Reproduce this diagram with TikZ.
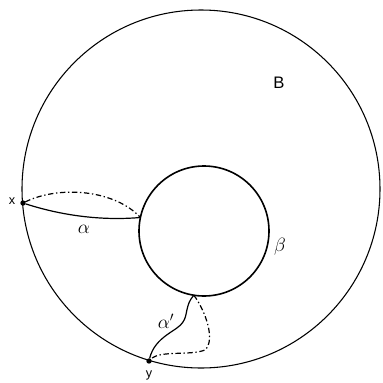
\documentclass[tikz,border=0pt]{standalone}
\usepackage{fontspec}
\setsansfont{Liberation Sans}
\begin{document}
\begin{tikzpicture}[x=0.75pt,y=-0.75pt,
  ring/.style={circle,draw,inner sep=0pt,outer sep=0pt},
  pt/.style={circle,fill,inner sep=0pt,minimum size=4pt,outer sep=0pt},
  path/.style={line width=0.9pt},
  dpath/.style={line width=0.9pt,dash pattern=on 4pt off 2pt on 1pt off 2pt},
  lbl/.style={font=\sffamily},
  glbl/.style={font=\fontsize{14}{14}\selectfont}]
\useasboundingbox (0,0) rectangle (383,383);
\node[ring,line width=0.8pt,minimum size=268.5pt] (outer) at (201,189) {};
\node[ring,line width=1.2pt,minimum size=97.5pt] (inner) at (204,231) {};
\node[pt] (x) at (23,203) {};
\node[pt] (y) at (149,361) {};
\coordinate (a) at (inner.168);
\coordinate (b) at (inner.261);
\draw[path] (x) .. controls (60,215) and (100,221) .. (a);
\draw[dpath] (x) .. controls (60,185) and (115,190) .. (a);
\draw[path] (b) .. controls (185,305) and (188,315) .. (183,322)
  .. controls (178,331) and (155,336) .. (y);
\draw[dpath] (b) .. controls (205,310) and (216,340) .. (205,350)
  .. controls (190,356) and (160,350) .. (y);
\node[lbl,font=\sffamily\fontsize{9.5}{9.5}\selectfont] (xl) at (12,201) {x};
\node[lbl,font=\sffamily\fontsize{9.5}{9.5}\selectfont] (yl) at (149,375) {y};
\node[lbl,font=\sffamily\fontsize{12.5}{12.5}\selectfont] (B) at (279,83) {B};
\node[glbl] (al) at (84,229) {$\alpha$};
\node[glbl] (bl) at (280,247) {$\beta$};
\node[glbl] (apl) at (166,321) {$\alpha'$};
\end{tikzpicture}
\end{document}
